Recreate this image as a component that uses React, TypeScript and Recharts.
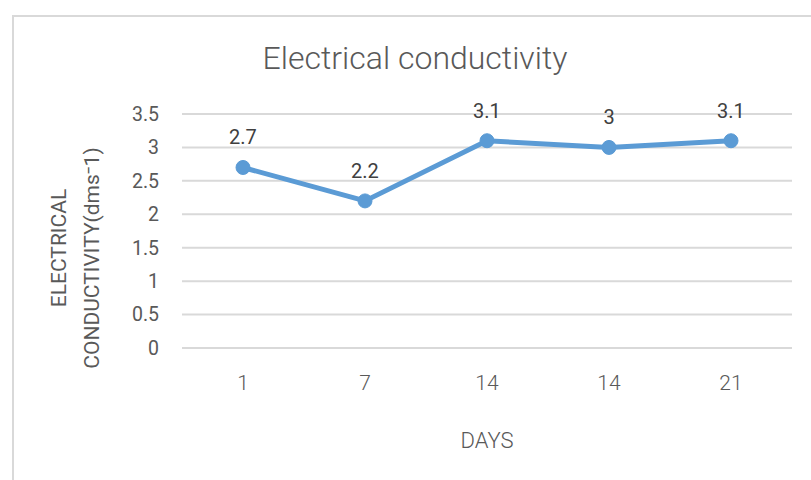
import { LineChart, Line, XAxis, YAxis, CartesianGrid, LabelList } from "recharts";

const DAYS = ["1", "7", "14", "14", "21"];
const EC_VALUES = [2.7, 2.2, 3.1, 3, 3.1];
const Y_TICKS = [0, 0.5, 1, 1.5, 2, 2.5, 3, 3.5];

const chartData = DAYS.map((d, i) => ({ idx: i, day: d, ec: EC_VALUES[i] }));

const BLUE = "#5b9bd5";
const GRID = "#d9d9d9";
const TEXT = "#595959";

function YLabel() {
  return (
    <g fill={TEXT} fontFamily="Roboto" fontSize={21}>
      <text x={59} y={248} transform="rotate(-90 59 248)" textAnchor="middle" dominantBaseline="central">
        ELECTRICAL
      </text>
      <text x={92} y={258} transform="rotate(-90 92 258)" textAnchor="middle" dominantBaseline="central">
        CONDUCTIVITY(dms⁻1)
      </text>
    </g>
  );
}

export default function App() {
  return (
    <div style={{ position: "absolute", left: 0, top: 0, width: 811, height: 480, background: "#fff" }}>
      <div
        style={{
          position: "absolute",
          left: 12,
          top: 15,
          width: 799,
          height: 465,
          borderLeft: `2px solid ${GRID}`,
          borderTop: `2px solid ${GRID}`,
        }}
      />
      <div
        style={{
          position: "absolute",
          left: 0,
          width: 830,
          top: 39,
          textAlign: "center",
          fontFamily: "Roboto, sans-serif",
          fontWeight: 300,
          fontSize: 32,
          color: TEXT,
        }}
      >
        Electrical conductivity
      </div>
      <div style={{ position: "absolute", left: 0, top: 0 }}>
        <LineChart width={811} height={480} data={chartData} margin={{ top: 114, right: 19, bottom: 102, left: 0 }}>
          <CartesianGrid vertical={false} stroke={GRID} strokeWidth={2} />
          <XAxis
            dataKey="idx"
            tickFormatter={(i: number) => DAYS[i]}
            padding={{ left: 61, right: 61 }}
            axisLine={{ stroke: GRID, strokeWidth: 2 }}
            tickLine={false}
            tickSize={0}
            tickMargin={27}
            height={30}
            tick={{ fill: TEXT, fontSize: 21, fontFamily: "Roboto", fontWeight: 300 }}
            label={{
              value: "DAYS",
              position: "insideBottom",
              offset: -70,
              fill: TEXT,
              fontSize: 22,
              fontFamily: "Roboto",
              fontWeight: 300,
            }}
          />
          <YAxis
            width={182}
            domain={[0, 3.5]}
            ticks={Y_TICKS}
            axisLine={false}
            tickLine={false}
            tickSize={0}
            tickMargin={23}
            tick={{ fill: TEXT, fontSize: 19.5, fontFamily: "Roboto" }}
            label={<YLabel />}
          />
          <Line
            dataKey="ec"
            stroke={BLUE}
            strokeWidth={5}
            dot={{ r: 7, fill: BLUE, stroke: BLUE, strokeWidth: 1 }}
            isAnimationActive={false}
          >
            <LabelList dataKey="ec" position="top" offset={23} fill="#404040" fontSize={20} fontFamily="Roboto" />
          </Line>
        </LineChart>
      </div>
    </div>
  );
}
